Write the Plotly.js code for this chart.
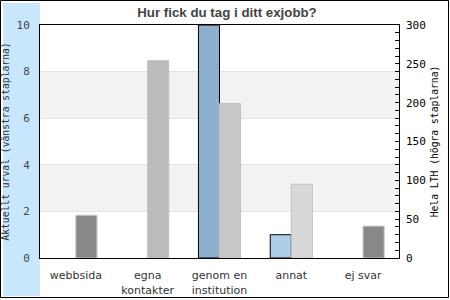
<!DOCTYPE html>
<html><head><meta charset="utf-8">
<script src="https://cdn.plot.ly/plotly-3.0.1.min.js"></script>
<style>html,body{margin:0;padding:0;background:#fff}#c{width:450px;height:300px}</style>
</head><body><div id="c"></div>
<script>
const categories = ['webbsida', 'egna<br>kontakter', 'genom en<br>institution', 'annat', 'ej svar'];
const urvalValues = [0, 0, 10, 1, 0];
const lthValues = [55, 254, 199, 95, 41];
const urvalColors = ['#8fb0cc', '#8fb0cc', '#8fb0cc', '#aecde8', '#8fb0cc'];
const lthColors = ['#888888', '#bbbbbb', '#c8c8c8', '#d8d8d8', '#888888'];
const leftTicks = [0, 2, 4, 6, 8, 10];
const rightTicks = [0, 50, 100, 150, 200, 250, 300];

const W = 450, H = 300, L = 40, R = 51, T = 25, B = 42;
const pw = W - L - R, ph = H - T - B;
const px = v => (v - L) / pw;
const py = v => (H - B - v) / ph;

const data = [
  {type: 'bar', x: categories, y: urvalValues, yaxis: 'y', width: 0.293, offset: -0.293,
   marker: {color: urvalColors, line: {color: '#000', width: urvalValues.map(v => v > 0 ? 1 : 0)}}, hoverinfo: 'none'},
  {type: 'bar', x: categories, y: lthValues, yaxis: 'y2', width: 0.293, offset: 0,
   marker: {color: lthColors, line: {color: '#c0c0c0', width: lthValues.map(v => v > 0 ? 1 : 0)}}, hoverinfo: 'none'}
];

const shapes = [
  {type: 'rect', xref: 'paper', yref: 'paper', x0: px(3), x1: px(40), y0: py(296), y1: py(3),
   fillcolor: '#c8e7fd', line: {width: 0}, layer: 'below'},
  {type: 'rect', xref: 'paper', yref: 'paper', x0: px(0.5), x1: px(448.5), y0: py(297.5), y1: py(0.5),
   fillcolor: 'rgba(0,0,0,0)', line: {color: '#000', width: 1}, layer: 'below'},
  {type: 'rect', xref: 'paper', yref: 'y', x0: 0, x1: 1, y0: 2, y1: 4,
   fillcolor: '#f2f2f2', line: {width: 0}, layer: 'below'},
  {type: 'rect', xref: 'paper', yref: 'y', x0: 0, x1: 1, y0: 6, y1: 8,
   fillcolor: '#f2f2f2', line: {width: 0}, layer: 'below'}
];

const layout = {
  width: W, height: H,
  margin: {l: L, r: R, t: T, b: B, pad: 0},
  paper_bgcolor: 'rgba(0,0,0,0)', plot_bgcolor: 'rgba(0,0,0,0)',
  showlegend: false,
  barmode: 'overlay',
  title: {text: '<b>Hur fick du tag i ditt exjobb?</b>', x: 227 / W, xref: 'container', xanchor: 'center',
          y: 1 - 12/H, yref: 'container', yanchor: 'middle',
          font: {family: 'Liberation Sans, Arial, sans-serif', size: 13.3, color: '#444'}},
  xaxis: {showline: true, linecolor: '#000', linewidth: 1, mirror: true, showgrid: false, zeroline: false,
          ticks: '', ticklabelstandoff: 7,
          tickfont: {family: 'DejaVu Sans, sans-serif', size: 11, color: '#333'}},
  yaxis: {range: [0, 10], tickvals: leftTicks, ticktext: leftTicks.map(String),
          showline: true, linecolor: '#000', linewidth: 1, mirror: true,
          showgrid: true, gridcolor: '#e2e2e2', gridwidth: 1, zeroline: false,
          ticks: '', ticklabelstandoff: 7,
          tickfont: {family: 'DejaVu Sans Mono, monospace', size: 11, color: '#444'},
          title: {text: 'Aktuellt urval (vänstra staplarna)', standoff: 6,
                  font: {family: 'DejaVu Sans Mono, monospace', size: 9.7, color: '#333'}}},
  yaxis2: {range: [0, 300], overlaying: 'y', side: 'right', tickvals: rightTicks, ticktext: rightTicks.map(String),
           showgrid: false, zeroline: false, showline: false,
           ticks: 'inside', ticklen: 4, tickcolor: '#000', ticklabelstandoff: 6,
           minor: {dtick: 10, ticks: 'inside', ticklen: 4, tickcolor: '#000'},
           tickfont: {family: 'DejaVu Sans Mono, monospace', size: 11, color: '#000'},
           title: {text: 'Hela LTH (högra staplarna)', standoff: 6,
                   font: {family: 'DejaVu Sans Mono, monospace', size: 9.7, color: '#000'}}},
  shapes: shapes
};

Plotly.newPlot('c', data, layout, {staticPlot: true, displayModeBar: false});
</script></body></html>
